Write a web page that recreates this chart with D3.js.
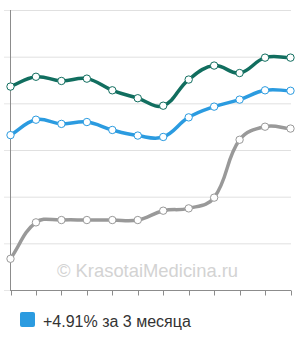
<!DOCTYPE html>
<html><head><meta charset="utf-8">
<script src="https://cdn.jsdelivr.net/npm/d3@7"></script>
<style>body{margin:0;background:#fff}svg{display:block}</style>
</head><body>
<svg id="c" width="300" height="340"></svg>
<script>
const months = [0,1,2,3,4,5,6,7,8,9,10,11];
const darkSeries = [4.37,4.58,4.49,4.54,4.29,4.12,3.96,4.52,4.82,4.66,4.99,4.99];
const blueSeries = [3.33,3.66,3.57,3.61,3.44,3.32,3.29,3.71,3.94,4.09,4.29,4.28];
const graySeries = [0.68,1.46,1.51,1.51,1.51,1.51,1.71,1.76,1.99,3.23,3.51,3.47];
const yTicks = [0,1,2,3,4,5,6];
const legendText = "+4.91% за 3 месяца";
const watermark = "© KrasotaiMedicina.ru";

// Tension spline curve (control points from neighbouring points)
function tensionCurve(tension){
  return function(context){
    let pts = [];
    return {
      areaStart(){}, areaEnd(){},
      lineStart(){ pts = []; },
      point(x,y){ pts.push([x,y]); },
      lineEnd(){
        const n = pts.length; if(!n) return;
        const cp = pts.map((c,i)=>{
          const p = pts[i-1]||c, nx = pts[i+1]||c;
          const d01 = Math.hypot(c[0]-p[0],c[1]-p[1]);
          const d12 = Math.hypot(nx[0]-c[0],nx[1]-c[1]);
          let s01 = d01/(d01+d12), s12 = d12/(d01+d12);
          if(isNaN(s01)) s01=0; if(isNaN(s12)) s12=0;
          const fa = tension*s01, fb = tension*s12;
          return {
            prev:[c[0]-fa*(nx[0]-p[0]), c[1]-fa*(nx[1]-p[1])],
            next:[c[0]+fb*(nx[0]-p[0]), c[1]+fb*(nx[1]-p[1])]
          };
        });
        context.moveTo(pts[0][0],pts[0][1]);
        for(let i=1;i<n;i++){
          context.bezierCurveTo(cp[i-1].next[0],cp[i-1].next[1],cp[i].prev[0],cp[i].prev[1],pts[i][0],pts[i][1]);
        }
      }
    };
  };
}

const svg = d3.select("#c");
const x = d3.scaleLinear().domain([0,11]).range([10.5,290.5]);
const y = d3.scaleLinear().domain([0,6]).range([290.5,10.5]);

svg.append("g").selectAll("line").data(yTicks.slice(1)).join("line")
  .attr("x1",10.5).attr("x2",291).attr("y1",d=>y(d)).attr("y2",d=>y(d))
  .attr("stroke","#e0e0e0").attr("stroke-width",1);
svg.append("g").selectAll("line").data(yTicks).join("line")
  .attr("x1",4).attr("x2",10.5).attr("y1",d=>y(d)).attr("y2",d=>y(d))
  .attr("stroke","#e6e6e6").attr("stroke-width",1);

svg.append("text").attr("x",147.5).attr("y",277).attr("text-anchor","middle")
  .attr("font-family","Arial, 'Liberation Sans', sans-serif").attr("font-size",18.4)
  .attr("fill","#d3d3d3").text(watermark);

svg.append("line").attr("x1",10.5).attr("x2",10.5).attr("y1",10).attr("y2",290.5)
  .attr("stroke","#8c8c8c");
svg.append("line").attr("x1",10).attr("x2",291).attr("y1",290.5).attr("y2",290.5)
  .attr("stroke","#8c8c8c");
svg.append("g").selectAll("line").data(months).join("line")
  .attr("x1",d=>Math.round(x(d))+0.5).attr("x2",d=>Math.round(x(d))+0.5)
  .attr("y1",290.5).attr("y2",295.5).attr("stroke","#8c8c8c");

const line = d3.line().x((d,i)=>x(i)).y(d=>y(d)).curve(tensionCurve(0.4));
const series = [
  {data: graySeries, color:"#999999"},
  {data: blueSeries, color:"#2b9be0"},
  {data: darkSeries, color:"#116e5f"}
];
series.forEach(s=>{
  svg.append("path").datum(s.data).attr("d",line).attr("fill","none")
    .attr("stroke",s.color).attr("stroke-width",3.5).attr("stroke-linejoin","round");
  svg.append("g").selectAll("circle").data(s.data).join("circle")
    .attr("cx",(d,i)=>x(i)).attr("cy",d=>y(d)).attr("r",3.7)
    .attr("fill","#fff").attr("stroke",s.color).attr("stroke-width",1);
});

svg.append("rect").attr("x",20).attr("y",312).attr("width",15).attr("height",15)
  .attr("rx",2).attr("fill","#2b9be0");
svg.append("text").attr("x",43).attr("y",326.5).attr("font-family","Arial, 'Liberation Sans', sans-serif")
  .attr("font-size",16).attr("fill","#333").text(legendText);
</script>
</body></html>
